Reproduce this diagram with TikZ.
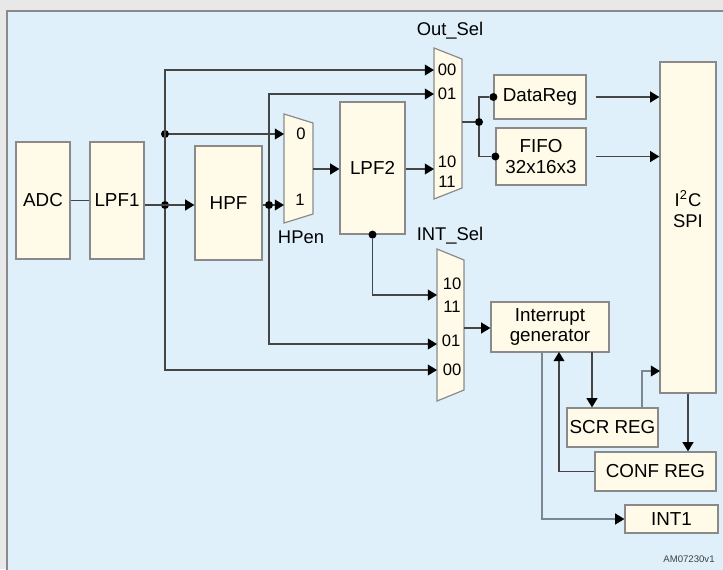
\documentclass[tikz,border=0pt]{standalone}
\usepackage{fontspec}
\setmainfont{Liberation Sans}
\usetikzlibrary{arrows.meta}
\definecolor{panel}{HTML}{DFF0FB}
\definecolor{boxfill}{HTML}{FFFBE8}
\definecolor{boxline}{HTML}{8A8A8A}
\definecolor{wire}{HTML}{454545}
\definecolor{wirelight}{HTML}{7D8790}
\definecolor{frame}{HTML}{E8E8E8}
\tikzset{
  blk/.style={draw=boxline, fill=boxfill, line width=0.6pt, inner sep=1pt, align=center,
    font=\fontsize{9.4}{10.4}\selectfont},
  muxshape/.style={draw=boxline, fill=boxfill, line width=0.6pt},
  wireline/.style={draw=wire, line width=0.75pt},
  arr/.style={wireline, -{Triangle[length=4.6pt,width=5.4pt,color=black]}},
  dot/.style={circle, fill=black, inner sep=0pt, minimum size=4pt},
  sel/.style={font=\fontsize{8.3}{9}\selectfont, inner sep=0pt},
  lbl/.style={font=\fontsize{9.2}{10.4}\selectfont, inner sep=0pt, align=center},
}
\begin{document}
\begin{tikzpicture}[x=0.5pt, y=-0.5pt]
  \useasboundingbox (0,0) rectangle (723,569);
  \fill[frame] (0,0) rectangle (723,569);
  \filldraw[fill=panel, draw=boxline, line width=0.6pt] (7,11) rectangle (730,575);

  % blocks
  \node[blk, minimum width=27pt, minimum height=58.5pt] (adc) at (43,200.5) {ADC};
  \node[blk, minimum width=27pt, minimum height=58.5pt] (lpf1) at (117,200.5) {LPF1};
  \node[blk, minimum width=33.5pt, minimum height=57pt] (hpf) at (228.5,203) {HPF};
  \node[blk, minimum width=32.5pt, minimum height=66pt] (lpf2) at (372.5,168) {LPF2};
  \node[blk, minimum width=46pt, minimum height=22pt] (datareg) at (540,97) {DataReg};
  \node[blk, minimum width=45pt, minimum height=28.5pt] (fifo) at (541,156.5) {FIFO\\32x16x3};
  \node[blk, minimum width=28pt, minimum height=165.5pt] (i2c) at (688,227.5) {};
  \node[lbl] (i2clbl) at (688,209) {I\textsuperscript{2}C\\SPI};
  \node[blk, minimum width=59pt, minimum height=25pt] (intgen) at (550,327) {Interrupt\\generator};
  \node[blk, minimum width=45.5pt, minimum height=19.5pt] (scr) at (612.5,427.5) {SCR REG};
  \node[blk, minimum width=60.5pt, minimum height=19.5pt] (conf) at (655.5,471.5) {CONF REG};
  \node[blk, minimum width=46.5pt, minimum height=14pt] (int1) at (671.5,519) {INT1};

  % multiplexers
  \draw[muxshape] (284,114) -- (313,123) -- (313,214) -- (284,223) -- cycle;
  \draw[muxshape] (434,48) -- (462,59) -- (462,188) -- (434,199) -- cycle;
  \draw[muxshape] (437,249) -- (464,260) -- (464,390) -- (437,401) -- cycle;
  \node[lbl] (hpenlbl) at (301,237) {HPen};
  \node[lbl] (outsellbl) at (450,31) {Out\_Sel};
  \node[lbl] (intsellbl) at (450,236) {INT\_Sel};
  \node[sel] (hpenzero) at (301,134) {0};
  \node[sel] (hpenone) at (300,200) {1};
  \node[sel] (osa) at (447,70) {00};
  \node[sel] (osb) at (447,94) {01};
  \node[sel] (osc) at (447,162) {10};
  \node[sel] (osd) at (447,182) {11};
  \node[sel] (isa) at (452,284) {10};
  \node[sel] (isb) at (452,307) {11};
  \node[sel] (isc) at (451,341) {01};
  \node[sel] (isd) at (452,370) {00};

  % mux pins
  \coordinate (hpen0) at (284,134);
  \coordinate (hpen1) at (284,205);
  \coordinate (hpenout) at (313,169);
  \coordinate (os00) at (434,70);
  \coordinate (os01) at (434,94);
  \coordinate (os10) at (434,169);
  \coordinate (osout) at (462,122);
  \coordinate (is10) at (437,295);
  \coordinate (is01) at (437,344);
  \coordinate (is00) at (437,370);
  \coordinate (isout) at (464,328);
  \coordinate (gint) at (542,352);
  \coordinate (gup) at (559,352);
  \coordinate (gdown) at (592,352);
  \coordinate (scrtap) at (642,408);
  \coordinate (i2cin) at (660,371);

  % junctions
  \node[dot] (j1) at (165,205) {};
  \node[dot] (j2) at (165,134) {};
  \node[dot] (j3) at (269,205) {};
  \node[dot] (j4) at (lpf2.south) {};
  \node[dot] (j5) at (479,122) {};
  \node[dot] (jdr) at (datareg.west) {};
  \node[dot] (jff) at (fifo.west) {};

  % connections
  \draw[wireline] (adc) -- (lpf1);
  \draw[arr] (lpf1.east |- j1) -- (hpf.west |- j1);
  \draw[arr] (j1) |- (os00);
  \draw[arr] (j1) |- (is00);
  \draw[arr] (j2) -- (hpen0);
  \draw[wireline] (hpf.east |- j3) -- (j3);
  \draw[arr] (j3) -- (hpen1);
  \draw[arr] (j3) |- (os01);
  \draw[arr] (j3) |- (is01);
  \draw[arr] (hpenout) -- (lpf2.west |- hpenout);
  \draw[arr] (lpf2.east |- os10) -- (os10);
  \draw[arr] (j4) |- (is10);
  \draw[arr] (isout) -- (intgen.west |- isout);
  \draw[wireline] (osout) -- (j5);
  \draw[wireline] (j5) |- (jdr);
  \draw[wireline] (j5) |- (jff);
  \draw[arr] ([xshift=4.5pt]datareg.east) -- (i2c.west |- datareg.east);
  \draw[arr] ([xshift=4.5pt]fifo.east) -- (i2c.west |- fifo.east);
  \draw[arr] (gdown) -- (gdown |- scr.north);
  \draw[arr] (conf.west) -| (gup);
  \draw[arr, draw=wirelight] (gint) |- (int1.west);
  \draw[arr, draw=wirelight] (scrtap) |- (i2cin);
  \draw[arr] (i2c.south) -- (i2c.south |- conf.north);

  \node[font=\fontsize{4.8}{5}\selectfont, inner sep=0pt, text=black!75] (code) at (689,559) {AM07230v1};
\end{tikzpicture}
\end{document}
